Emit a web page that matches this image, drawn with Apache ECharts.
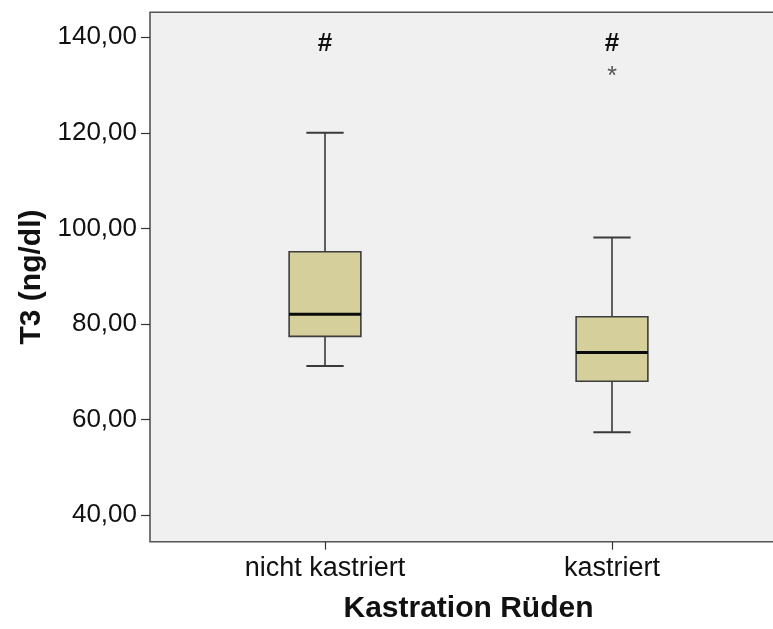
<!DOCTYPE html>
<html>
<head>
<meta charset="utf-8">
<script src="https://cdn.jsdelivr.net/npm/echarts@6/dist/echarts.min.js"></script>
<style>
html,body{margin:0;padding:0;background:#ffffff;}
#chart{width:773px;height:629px;}
</style>
</head>
<body>
<div id="chart"></div>
<script>
// ---- data ----
var categories = ['nicht kastriert', 'kastriert'];
var whiskerLow = [71.2, 57.3];
var q1 = [77.4, 68.0];
var medians = [82.0, 74.0];
var q3 = [95.1, 81.5];
var whiskerHigh = [120.0, 98.1];
var extremeOutliers = [[1, 132.6]];      // shown as "*"
var hashMarks = [[0, 138.6], [1, 138.6]]; // "#" annotations
var yTicks = [40, 60, 80, 100, 120, 140];
var yMin = 34.41, yMax = 145.23;

var boxData = categories.map(function (c, i) {
  return [i, whiskerLow[i], q1[i], medians[i], q3[i], whiskerHigh[i]];
});

var FONT = '"Liberation Sans", Arial, sans-serif';
var chart = echarts.init(document.getElementById('chart'));

function fmt(v) { return v.toFixed(2).replace('.', ','); }

chart.setOption({
  backgroundColor: '#ffffff',
  animation: false,
  grid: [
    { left: 150, top: 12.3, width: 637, height: 529.4, show: true, outerBoundsMode: 'none', containLabel: false,
      backgroundColor: '#f0f0f0', borderColor: '#555555', borderWidth: 1.6 },
    { left: 181.5, top: 12.3, width: 574, height: 529.4, outerBoundsMode: 'none', containLabel: false }
  ],
  xAxis: [
    { gridIndex: 0, type: 'value', show: false, min: 0, max: 1 },
    { gridIndex: 1, type: 'category', data: categories,
      axisLine: { show: false },
      axisTick: { show: true, alignWithLabel: true, length: 8, lineStyle: { color: '#333', width: 1.2 } },
      axisLabel: { color: '#111111', fontSize: 27, fontFamily: FONT, margin: 13 },
      name: 'Kastration Rüden', nameLocation: 'middle', nameGap: 52,
      nameTextStyle: { color: '#111111', fontSize: 30, fontWeight: 'bold', fontFamily: FONT }
    }
  ],
  yAxis: [
    { gridIndex: 0, type: 'value', min: yMin, max: yMax,
      axisLine: { show: false },
      splitLine: { show: false },
      axisTick: { show: true, length: 9, customValues: yTicks, lineStyle: { color: '#333', width: 1.2 } },
      axisLabel: { customValues: yTicks, formatter: fmt, color: '#111111', fontSize: 26, fontFamily: FONT, margin: 13 },
      name: 'T3 (ng/dl)', nameLocation: 'middle', nameRotate: 90, nameGap: 98,
      nameTextStyle: { color: '#111111', fontSize: 30, fontWeight: 'bold', fontFamily: FONT }
    },
    { gridIndex: 1, type: 'value', min: yMin, max: yMax, show: false, splitLine: { show: false } }
  ],
  series: [
    {
      type: 'custom', xAxisIndex: 1, yAxisIndex: 1,
      data: boxData,
      renderItem: function (params, api) {
        var x = api.value(0);
        var band = api.size([1, 0])[0];
        var halfBox = band * 0.125;
        var halfCap = band * 0.065;
        var pLow = api.coord([x, api.value(1)]);
        var pQ1 = api.coord([x, api.value(2)]);
        var pMed = api.coord([x, api.value(3)]);
        var pQ3 = api.coord([x, api.value(4)]);
        var pHigh = api.coord([x, api.value(5)]);
        var cx = pMed[0];
        var wStyle = { stroke: '#3a3a3a', lineWidth: 1.6 };
        return {
          type: 'group',
          children: [
            { type: 'line', shape: { x1: cx, y1: pQ3[1], x2: cx, y2: pHigh[1] }, style: wStyle },
            { type: 'line', shape: { x1: cx, y1: pQ1[1], x2: cx, y2: pLow[1] }, style: wStyle },
            { type: 'line', shape: { x1: cx - halfCap, y1: pHigh[1], x2: cx + halfCap, y2: pHigh[1] }, style: { stroke: '#3a3a3a', lineWidth: 2 } },
            { type: 'line', shape: { x1: cx - halfCap, y1: pLow[1], x2: cx + halfCap, y2: pLow[1] }, style: { stroke: '#3a3a3a', lineWidth: 2 } },
            { type: 'rect', shape: { x: cx - halfBox, y: pQ3[1], width: halfBox * 2, height: pQ1[1] - pQ3[1] },
              style: { fill: '#d4cf9b', stroke: '#3d3d3d', lineWidth: 1.6 } },
            { type: 'line', shape: { x1: cx - halfBox, y1: pMed[1], x2: cx + halfBox, y2: pMed[1] },
              style: { stroke: '#0a0a0a', lineWidth: 3 } }
          ]
        };
      }
    },
    {
      type: 'custom', xAxisIndex: 1, yAxisIndex: 1,
      data: extremeOutliers,
      renderItem: function (params, api) {
        var p = api.coord([api.value(0), api.value(1)]);
        return { type: 'text', x: p[0], y: p[1] + 4,
          style: { text: '*', fill: '#555555', fontSize: 25, fontFamily: FONT, align: 'center', verticalAlign: 'middle' } };
      }
    },
    {
      type: 'custom', xAxisIndex: 1, yAxisIndex: 1,
      data: hashMarks,
      renderItem: function (params, api) {
        var p = api.coord([api.value(0), api.value(1)]);
        return { type: 'text', x: p[0], y: p[1],
          style: { text: '#', fill: '#111111', fontSize: 26, fontWeight: 'bold', fontFamily: FONT, align: 'center', verticalAlign: 'middle' } };
      }
    }
  ]
});
</script>
</body>
</html>
